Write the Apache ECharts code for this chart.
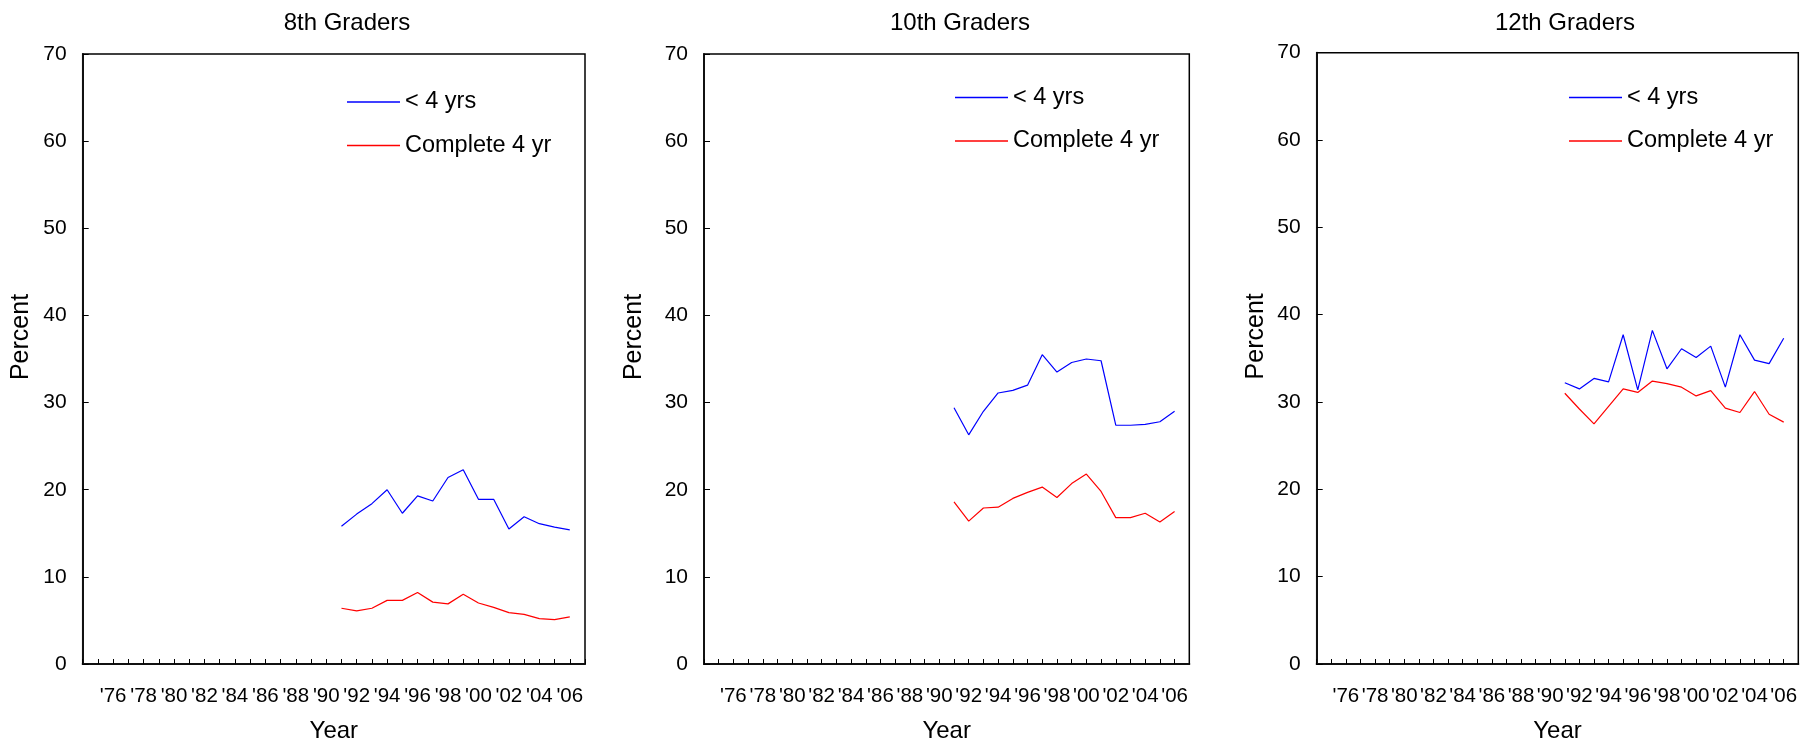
<!DOCTYPE html>
<html>
<head>
<meta charset="utf-8">
<script src="https://cdn.jsdelivr.net/npm/echarts@6/dist/echarts.min.js"></script>
<style>
html,body{margin:0;padding:0;background:#fff;}
#chart{width:1816px;height:748px;}
</style>
</head>
<body>
<div id="chart"></div>
<script>
// ---- data ----
const years = [1991,1992,1993,1994,1995,1996,1997,1998,1999,2000,2001,2002,2003,2004,2005,2006];
const panelTitles = ['8th Graders', '10th Graders', '12th Graders'];
const seriesNames = ['< 4 yrs', 'Complete 4 yr'];
const yTicks = [0,10,20,30,40,50,60,70];

const g8Less4 = [15.8,17.2,18.4,20.0,17.3,19.3,18.7,21.4,22.3,18.9,18.9,15.5,16.9,16.1,15.7,15.4];
const g8Complete = [6.4,6.1,6.4,7.3,7.3,8.2,7.1,6.9,8.0,7.0,6.5,5.9,5.7,5.2,5.1,5.4];
const g10Less4 = [29.4,26.3,29.0,31.1,31.4,32.0,35.5,33.5,34.6,35.0,34.8,27.4,27.4,27.5,27.8,29.0];
const g10Complete = [18.6,16.4,17.9,18.0,19.0,19.7,20.3,19.1,20.7,21.8,19.8,16.8,16.8,17.3,16.3,17.5];
const g12Less4 = [32.2,31.5,32.7,32.3,37.7,31.4,38.2,33.8,36.1,35.1,36.4,31.7,37.7,34.8,34.4,37.3];
const g12Complete = [31.0,29.2,27.5,29.5,31.5,31.1,32.4,32.1,31.7,30.7,31.3,29.3,28.8,31.2,28.6,27.7];

const panelData = [[g8Less4, g8Complete],[g10Less4, g10Complete],[g12Less4, g12Complete]];

// ---- layout ----
const grids = [
  {left:82.7, top:54, width:502.3, height:613.5},
  {left:704, top:54, width:485.3, height:615.3},
  {left:1316.7, top:52.7, width:481.6, height:616.6}
];
const titleX = [342, 955, 1560];
const legendPos = [{left:342, top:85},{left:950, top:80.5},{left:1564, top:80.5}];
const nameGaps = [49, 57, 48];
const colors = ['#0000ff', '#ff0000'];
const FONT = 'Liberation Sans, Arial, sans-serif';

const chart = echarts.init(document.getElementById('chart'), null, {renderer:'canvas'});

const option = {
  backgroundColor:'#fff',
  animation:false,
  title: panelTitles.map((t,i)=>({
    text:t, left:titleX[i], top:6, textAlign:'center',
    textStyle:{fontFamily:FONT, fontSize:24, fontWeight:'normal', color:'#000'}
  })),
  legend: legendPos.map((p,i)=>({
    left:p.left, top:p.top, orient:'vertical',
    icon:'rect', itemWidth:53, itemHeight:1.5, itemGap:19.5,
    textStyle:{fontFamily:FONT, fontSize:23.5, color:'#000'},
    data: seriesNames.map((n,k)=>({name: n + '\u200b'.repeat(i)})),
    selectedMode:false
  })),
  grid: grids.map(g=>Object.assign({show:true, borderColor:'#000', borderWidth:1.5, backgroundColor:'#fff'}, g)),
  xAxis: grids.map((g,i)=>({
    type:'value', gridIndex:i, min:1974, max:2007, interval:1,
    name:'Year', nameLocation:'middle', nameGap:55,
    nameTextStyle:{fontFamily:FONT, fontSize:24, color:'#000'},
    axisLine:{show:true, lineStyle:{color:'#111', width:2}},
    axisTick:{show:true, inside:true, length:5, lineStyle:{color:'#000', width:1}},
    axisLabel:{
      margin:22, fontFamily:FONT, fontSize:20.5, color:'#000',
      formatter: v => (v % 2 === 0 && v >= 1976 && v <= 2006) ? "'" + String(v).slice(2) : ''
    },
    splitLine:{show:false}
  })),
  yAxis: grids.map((g,i)=>({
    type:'value', gridIndex:i, min:yTicks[0], max:yTicks[yTicks.length-1], interval:10,
    name:'Percent', nameLocation:'middle', nameGap:nameGaps[i],
    nameTextStyle:{fontFamily:FONT, fontSize:25, color:'#000', padding:[0,0,0,44]},
    axisLine:{show:true, lineStyle:{color:'#111', width:2}},
    axisTick:{show:true, inside:true, length:6, lineStyle:{color:'#000', width:1}},
    axisLabel:{margin:16, fontFamily:FONT, fontSize:21, color:'#000'},
    splitLine:{show:false}
  })),
  series: []
};

panelData.forEach((pair, i) => {
  pair.forEach((vals, k) => {
    option.series.push({
      type:'line', name: seriesNames[k] + '\u200b'.repeat(i),
      xAxisIndex:i, yAxisIndex:i,
      symbol:'none', smooth:false,
      lineStyle:{color:colors[k], width:1.2},
      itemStyle:{color:colors[k]},
      data: years.map((y,j)=>[y, vals[j]])
    });
  });
});

chart.setOption(option);
</script>
</body>
</html>
